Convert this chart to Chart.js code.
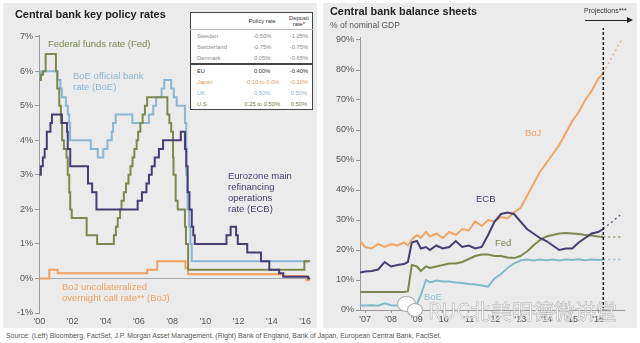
<!DOCTYPE html>
<html>
<head>
<meta charset="utf-8">
<script src="https://cdn.jsdelivr.net/npm/chart.js@4.4.1/dist/chart.umd.min.js"></script>
<style>
  body { margin: 0; width: 640px; height: 343px; background: #fff; position: relative; overflow: hidden; font-family: "Liberation Sans", Arial, sans-serif; }
  .panel { position: absolute; background: #ebebeb; }
  canvas { position: absolute; top: 0; }
  .txt { position: absolute; white-space: nowrap; }
  .title { font-weight: bold; font-size: 10.9px; color: #222; }
  .lbl { font-size: 9.5px; line-height: 11px; }
  #rateTable { position: absolute; left: 190px; top: 12px; width: 123px; border-collapse: collapse; background: #fff; border: 1px solid #444; font-size: 5.8px; color: #888; }
  #rateTable td { padding: 0; height: 11px; text-align: center; }
  #rateTable td:first-child { text-align: left; padding-left: 6px; }
  #rateTable tr.head td { height: 16px; line-height: 6px; color: #333; border-bottom: 1px solid #bbb; }
  #rateTable tr.eu td { border-top: 2px solid #444; color: #333; }
  #arrow { position: absolute; left: 585px; top: 20px; width: 42px; border-top: 1.5px solid #222; }
  #arrow:after { content: ""; position: absolute; right: -6px; top: -4.5px; border-left: 6px solid #222; border-top: 3.5px solid transparent; border-bottom: 3.5px solid transparent; }
  .bubble { position: absolute; border-radius: 50%; background: #fff; border: 1px solid #aaa; }
</style>
</head>
<body>
<div class="panel" style="left:3px; top:3px; width:314px; height:325px"></div>
<div class="panel" style="left:323px; top:3px; width:314px; height:325px"></div>

<canvas id="ratesChart" width="320" height="330" style="left:0"></canvas>
<canvas id="sheetsChart" width="320" height="330" style="left:320px"></canvas>

<div class="txt title" style="left:15px; top:8px">Central bank key policy rates</div>
<div class="txt title" style="left:330px; top:5px">Central bank balance sheets</div>
<div class="txt" style="left:330px; top:20px; font-size:8.5px; color:#555">% of nominal GDP</div>
<div class="txt" style="left:584px; top:7px; font-size:7px; color:#333">Projections***</div>
<div id="arrow"></div>

<div class="txt lbl" style="left:48px; top:38px; color:#7b8a4c">Federal funds rate (Fed)</div>
<div class="txt lbl" style="left:73px; top:70px; color:#8ab6d6">BoE official bank<br>rate (BoE)</div>
<div class="txt lbl" style="left:228px; top:170px; color:#473c76">Eurozone main<br>refinancing<br>operations<br>rate (ECB)</div>
<div class="txt lbl" style="left:62px; top:281px; color:#f0a060">BoJ uncollateralized<br>overnight call rate** (BoJ)</div>

<div class="txt lbl" style="left:525px; top:127px; color:#f0a060">BoJ</div>
<div class="txt lbl" style="left:476px; top:193px; color:#473c76">ECB</div>
<div class="txt lbl" style="left:495px; top:237px; color:#7b8a4c">Fed</div>
<div class="txt lbl" style="left:424px; top:291px; color:#8cc3cf">BoE</div>

<table id="rateTable">
  <tr class="head"><td></td><td>Policy rate</td><td>Deposit<br>rate*</td></tr>
  <tr><td>Sweden</td><td>-0.50%</td><td>-1.25%</td></tr>
  <tr><td>Switzerland</td><td>-0.75%</td><td>-0.75%</td></tr>
  <tr><td>Denmark</td><td>0.05%</td><td>-0.65%</td></tr>
  <tr class="eu"><td>EU</td><td>0.00%</td><td>-0.40%</td></tr>
  <tr style="color:#e99a55"><td>Japan</td><td>-0.10 to 0.0%</td><td>-0.10%</td></tr>
  <tr style="color:#8ab6d6"><td>UK</td><td>0.50%</td><td>0.50%</td></tr>
  <tr style="color:#6f7d48"><td>U.S.</td><td>0.25 to 0.50%</td><td>0.50%</td></tr>
</table>

<div class="bubble" style="left:397px; top:296px; width:17px; height:14px"></div>
<div class="bubble" style="left:407px; top:303px; width:14px; height:12px"></div>
<div class="txt" style="left:428px; top:295px; font-family:'Noto Sans CJK SC', sans-serif; font-size:21px; color:rgba(255,255,255,0.8); -webkit-text-stroke:0.5px #aaa">RUC北美明德微讲堂</div>

<div class="txt" style="left:6px; top:332px; font-size:6.9px; color:#555">Source: (Left) Bloomberg, FactSet, J.P. Morgan Asset Management. (Right) Bank of England, Bank of Japan, European Central Bank, FactSet.</div>

<script>
// left panel: policy rates (%), each point = date of change, new rate
let fedDates = [2000.0, 2000.1, 2000.22, 2000.38, 2001.0, 2001.08, 2001.2, 2001.3, 2001.37, 2001.48, 2001.64, 2001.71, 2001.8, 2001.86, 2001.95, 2002.85, 2003.48, 2004.49, 2004.61, 2004.72, 2004.86, 2004.95, 2005.09, 2005.22, 2005.37, 2005.49, 2005.61, 2005.72, 2005.86, 2005.95, 2006.08, 2006.22, 2006.36, 2006.49, 2007.71, 2007.83, 2007.94, 2008.05, 2008.08, 2008.21, 2008.33, 2008.77, 2008.83, 2008.96, 2015.96, 2016.3];
let fedRates = [5.75, 5.9, 6.0, 6.5, 6.0, 5.5, 5.0, 4.5, 4.0, 3.75, 3.5, 3.0, 2.5, 2.0, 1.75, 1.25, 1.0, 1.25, 1.5, 1.75, 2.0, 2.25, 2.5, 2.75, 3.0, 3.25, 3.5, 3.75, 4.0, 4.25, 4.5, 4.75, 5.0, 5.25, 4.75, 4.5, 4.25, 3.5, 3.0, 2.25, 2.0, 1.5, 1.0, 0.25, 0.5, 0.5];

let boeDates = [2000.0, 2000.1, 2001.1, 2001.27, 2001.36, 2001.6, 2001.71, 2001.8, 2001.85, 2003.1, 2003.52, 2003.85, 2004.1, 2004.36, 2004.44, 2004.6, 2005.6, 2006.6, 2006.86, 2007.03, 2007.36, 2007.52, 2007.94, 2008.1, 2008.27, 2008.77, 2008.85, 2008.93, 2009.02, 2009.1, 2009.18, 2016.3];
let boeRates = [5.75, 6.0, 5.75, 5.5, 5.25, 5.0, 4.75, 4.5, 4.0, 3.75, 3.5, 3.75, 4.0, 4.25, 4.5, 4.75, 4.5, 4.75, 5.0, 5.25, 5.5, 5.75, 5.5, 5.25, 5.0, 4.5, 3.0, 2.0, 1.5, 1.0, 0.5, 0.5];

let ecbDates = [2000.0, 2000.09, 2000.21, 2000.32, 2000.45, 2000.67, 2000.76, 2001.36, 2001.67, 2001.71, 2001.86, 2002.93, 2003.18, 2003.44, 2005.92, 2006.18, 2006.45, 2006.6, 2006.77, 2006.95, 2007.2, 2007.45, 2008.52, 2008.77, 2008.85, 2008.93, 2009.04, 2009.18, 2009.27, 2009.36, 2011.27, 2011.52, 2011.85, 2011.95, 2012.52, 2013.35, 2013.85, 2014.44, 2014.69, 2016.2, 2016.3];
let ecbRates = [3.0, 3.25, 3.5, 3.75, 4.25, 4.5, 4.75, 4.5, 4.25, 3.75, 3.25, 2.75, 2.5, 2.0, 2.25, 2.5, 2.75, 3.0, 3.25, 3.5, 3.75, 4.0, 4.25, 3.75, 3.25, 2.5, 2.0, 1.5, 1.25, 1.0, 1.25, 1.5, 1.25, 1.0, 0.75, 0.5, 0.25, 0.15, 0.05, 0.0, 0.0];

let bojDates = [2000.0, 2000.6, 2001.1, 2006.5, 2007.1, 2008.8, 2008.95, 2014.7, 2016.1, 2016.3];
let bojRates = [0.0, 0.25, 0.15, 0.25, 0.5, 0.3, 0.12, 0.07, -0.05, -0.05];

let rateYearTicks = [2000, 2002, 2004, 2006, 2008, 2010, 2012, 2014, 2016];
let rateTicks = [-1, 0, 1, 2, 3, 4, 5, 6, 7];

// right panel: balance sheets (% of nominal GDP)
let bsYears = [2006.8, 2007.0, 2007.25, 2007.5, 2007.75, 2008.0, 2008.25, 2008.5, 2008.65, 2008.8, 2009.0, 2009.15, 2009.35, 2009.5, 2009.75, 2010.0, 2010.25, 2010.5, 2010.75, 2011.0, 2011.25, 2011.5, 2011.75, 2012.0, 2012.25, 2012.5, 2012.75, 2013.0, 2013.25, 2013.5, 2013.75, 2014.0, 2014.25, 2014.5, 2014.75, 2015.0, 2015.25, 2015.5, 2015.75, 2016.0, 2016.2];
let bojSheet = [23, 21, 20.5, 22, 21, 22, 21.5, 22.5, 21.5, 23.5, 25, 24, 26, 24.5, 25.5, 24, 26, 25, 27, 26.5, 29.5, 28, 30, 29.5, 31, 30.5, 32.5, 34, 38, 42, 46, 49, 52, 55, 59, 63, 66, 70, 73, 77, 79];
let ecbSheet = [12.5, 12.8, 13, 13.5, 16, 14.5, 15, 15.3, 16, 22.5, 23, 20.5, 21, 20, 21.5, 20.5, 21, 23, 21, 21.5, 20.5, 21, 25, 29.5, 32, 32.5, 32, 29.5, 27, 25.5, 24, 23, 21.5, 20, 20.5, 20.5, 22.5, 24, 25.5, 26, 27];
let fedSheet = [6, 6, 6, 6, 6, 6, 6, 6, 6.2, 15, 14.5, 13, 14.5, 14, 14.5, 15, 15.5, 15.5, 16, 17, 18, 18.5, 18.5, 18, 18, 17.5, 17.3, 18, 19.5, 21.5, 23.3, 24.5, 25, 25.5, 25.7, 25.5, 25.3, 25, 24.8, 24.5, 24.3];
let boeSheet = [1.5, 1.5, 1.6, 1.4, 2.2, 1.6, 1.5, 1.8, 1.6, 1.7, 2, 5, 10, 9.2, 9.8, 9.5, 9.5, 9.2, 9, 8.7, 8.5, 8.2, 7.8, 10.5, 12, 14, 15.5, 16.5, 16.8, 16.5, 16.8, 16.6, 16.8, 16.5, 16.8, 16.7, 16.9, 16.6, 16.8, 16.7, 16.8];

let projYears = [2016.2, 2016.9];
let bojProj = [79, 90];
let ecbProj = [27, 32];
let fedProj = [24.3, 24.3];
let boeProj = [16.8, 16.8];
let projLineYears = [2016.2, 2016.2];
let projLineValues = [0, 94];

let sheetYearTicks = [2007, 2008, 2009, 2010, 2011, 2012, 2013, 2014, 2015, 2016];
let sheetTicks = [0, 10, 20, 30, 40, 50, 60, 70, 80, 90];

function pts(xs, ys) {
  return xs.map((x, i) => ({ x: x, y: ys[i] }));
}
function setTicks(values) {
  return (scale) => { scale.ticks = values.map((v) => ({ value: v })); };
}
function yearLabel(v) {
  return "'" + String(v).slice(2);
}

Chart.defaults.font.family = "'Liberation Sans', Arial, sans-serif";
Chart.defaults.font.size = 9;
Chart.defaults.color = "#555";

let ratesCtx = document.getElementById("ratesChart").getContext("2d");
let ratesChart = new Chart(ratesCtx, {
  type: "line",
  data: {
    datasets: [
      { label: "ECB", data: pts(ecbDates, ecbRates), borderColor: "#473c76", stepped: true, borderWidth: 2, pointRadius: 0 },
      { label: "Fed", data: pts(fedDates, fedRates), borderColor: "#7b8a4c", stepped: true, borderWidth: 2, pointRadius: 0 },
      { label: "BoE", data: pts(boeDates, boeRates), borderColor: "#8ab6d6", stepped: true, borderWidth: 2, pointRadius: 0 },
      { label: "BoJ", data: pts(bojDates, bojRates), borderColor: "#f0a060", stepped: true, borderWidth: 2, pointRadius: 0 },
    ],
  },
  options: {
    responsive: false,
    animation: false,
    layout: { padding: { top: 35, right: 9, bottom: 3, left: 0 } },
    plugins: { legend: { display: false }, tooltip: { enabled: false } },
    scales: {
      x: {
        type: "linear",
        min: 1999.98,
        max: 2016.36,
        afterBuildTicks: setTicks(rateYearTicks),
        afterFit: (s) => { s.height = 14; },
        ticks: { callback: yearLabel, padding: 3, maxRotation: 0 },
        grid: { display: false, drawTicks: false },
        border: { display: false },
      },
      y: {
        min: -1,
        max: 7.05,
        afterBuildTicks: setTicks(rateTicks),
        afterFit: (s) => { s.width = 39; },
        ticks: { callback: (v) => v + "%", padding: 2 },
        grid: { color: (c) => (c.tick && c.tick.value === 0 ? "#a8a8a8" : "transparent"), tickColor: "#999", tickLength: 4 },
        border: { color: "#999" },
      },
    },
  },
});

let sheetsCtx = document.getElementById("sheetsChart").getContext("2d");
let sheetsChart = new Chart(sheetsCtx, {
  type: "line",
  data: {
    datasets: [
      { label: "Projection line", data: pts(projLineYears, projLineValues), borderColor: "#222", borderDash: [3, 2], borderWidth: 1.5, pointRadius: 0, clip: false },
      { label: "ECB", data: pts(bsYears, ecbSheet), borderColor: "#473c76", borderWidth: 2, pointRadius: 0 },
      { label: "BoJ", data: pts(bsYears, bojSheet), borderColor: "#f2a462", borderWidth: 2, pointRadius: 0 },
      { label: "Fed", data: pts(bsYears, fedSheet), borderColor: "#7b8a4c", borderWidth: 2, pointRadius: 0 },
      { label: "BoE", data: pts(bsYears, boeSheet), borderColor: "#7fbac8", borderWidth: 2, pointRadius: 0 },
      { label: "BoJ proj", data: pts(projYears, bojProj), borderColor: "#f2b07a", borderDash: [2, 3], borderWidth: 1.5, pointRadius: 0 },
      { label: "ECB proj", data: pts(projYears, ecbProj), borderColor: "#6a6290", borderDash: [2, 3], borderWidth: 1.5, pointRadius: 0 },
      { label: "Fed proj", data: pts(projYears, fedProj), borderColor: "#8f9c68", borderDash: [2, 3], borderWidth: 1.5, pointRadius: 0 },
      { label: "BoE proj", data: pts(projYears, boeProj), borderColor: "#8cc3cf", borderDash: [2, 3], borderWidth: 1.5, pointRadius: 0 },
    ],
  },
  options: {
    responsive: false,
    animation: false,
    layout: { padding: { top: 37, right: 16, bottom: 6, left: 0 } },
    plugins: { legend: { display: false }, tooltip: { enabled: false } },
    scales: {
      x: {
        type: "linear",
        min: 2006.8,
        max: 2017.0,
        afterBuildTicks: setTicks(sheetYearTicks),
        afterFit: (s) => { s.height = 14; },
        ticks: { callback: yearLabel, padding: 1, maxRotation: 0 },
        grid: { drawOnChartArea: false, tickColor: "#999", tickLength: 3 },
        border: { color: "#999" },
      },
      y: {
        min: 0,
        max: 91,
        afterBuildTicks: setTicks(sheetTicks),
        afterFit: (s) => { s.width = 40; },
        ticks: { callback: (v) => v + "%", padding: 2 },
        grid: { drawOnChartArea: false, tickColor: "#999", tickLength: 4 },
        border: { color: "#999" },
      },
    },
  },
});
</script>
</body>
</html>
